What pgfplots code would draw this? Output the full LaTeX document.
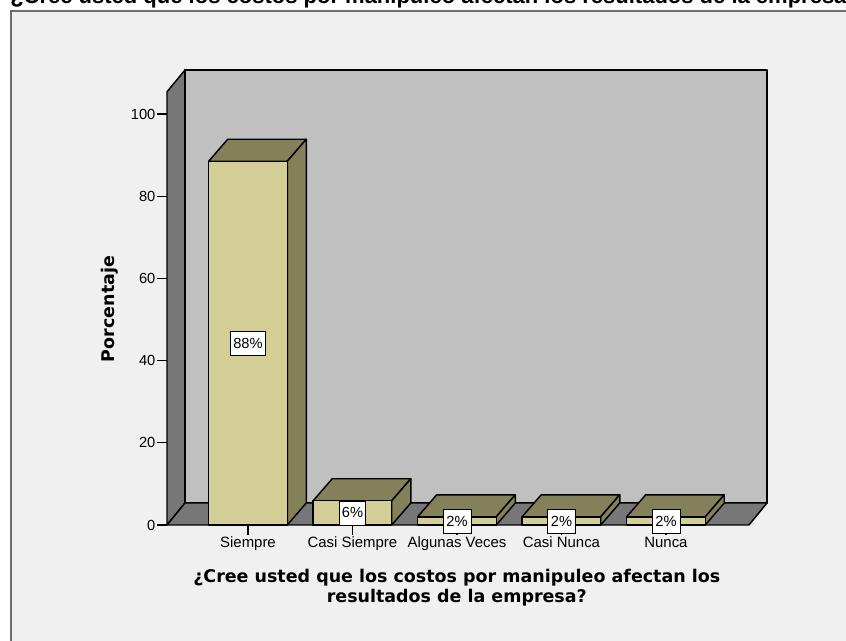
\documentclass[border=0pt]{standalone}
\usepackage{fontspec}
\setmainfont{Liberation Sans}
\newfontfamily\axisbold[BoldFont={DejaVu Sans Bold}]{DejaVu Sans}
\usepackage{pgfplots}
\pgfplotsset{compat=1.18}
\definecolor{panel}{HTML}{F0F0F0}
\definecolor{framegray}{HTML}{6E6E6E}
\definecolor{backwall}{HTML}{C0C0C0}
\definecolor{sidewall}{HTML}{777777}
\definecolor{barfront}{HTML}{D3CE96}
\definecolor{bardark}{HTML}{84805A}
\begin{document}
\begin{tikzpicture}[x=0.75pt,y=0.75pt]
\path[use as bounding box] (0,0) rectangle (846,641);
% panel runs off the right and bottom edge of the screenshot
\begin{scope}
\clip (0,0) rectangle (846,641);
\fill[white] (0,0) rectangle (846,641);
\fill[panel,draw=framegray,line width=1.1pt] (11,-20) rectangle (880,630);
\node[anchor=base west,inner sep=0pt,font=\bfseries\fontsize{16.5}{18}\selectfont] at (10,637)
  {¿Cree usted que los costos por manipuleo afectan los resultados de la empresa?};
\end{scope}
\begin{axis}[
  name=main,
  at={(125.25pt,87pt)},
  anchor=south west,
  scale only axis,
  width=450pt,
  height=341.25pt,
  xmin=-0.775, xmax=4.967,
  ymin=0, ymax=110.7,
  clip=false,
  axis line style={draw=none},
  tick align=outside,
  ytick pos=left,
  xtick pos=bottom,
  tick style={black,line width=1pt},
  major tick length=7.5pt,
  ytick={0,20,40,60,80,100},
  xtick={0,1,2,3,4},
  xticklabels={Siempre,Casi Siempre,Algunas Veces,Casi Nunca,Nunca},
  yticklabel style={inner sep=1pt,font=\fontsize{11}{13}\selectfont},
  xticklabel style={inner sep=1.5pt,font=\fontsize{11.2}{13}\selectfont,text height=8pt,text depth=2.5pt},
  /pgf/number format/assume math mode=true,
  every axis y label/.style={at={(axis description cs:-0.095,0.4747)},anchor=center,rotate=90},
  every axis x label/.style={at={(axis description cs:0.483,-0.1385)},anchor=center,align=center},
  ylabel={\axisbold\fontsize{13.1}{15}\selectfont\bfseries Porcentaje},
  xlabel={\axisbold\fontsize{13.1}{15}\selectfont\bfseries ¿Cree usted que los costos por manipuleo afectan los\\[1.5pt]\axisbold\fontsize{13.1}{15}\selectfont\bfseries resultados de la empresa?},
  every axis plot/.append style={line join=round,line width=1.1pt},
]
% walls and floor
\addplot[fill=backwall,draw=black] coordinates {(-0.603,5.35) (4.967,5.35) (4.967,110.7) (-0.603,110.7) (-0.603,5.35)};
\addplot[fill=sidewall,draw=black] coordinates {(-0.775,0) (-0.775,105.4) (-0.603,110.7) (-0.603,5.35) (-0.775,0)};
\addplot[fill=sidewall,draw=black] coordinates {(-0.775,0) (4.794,0) (4.967,5.35) (-0.603,5.35) (-0.775,0)};
% bar tops and sides
\addplot[fill=bardark,draw=black] coordinates {(-0.376,88.5) (0.376,88.5) (0.558,93.85) (-0.194,93.85) (-0.376,88.5)};
\addplot[fill=bardark,draw=black] coordinates {(0.376,0) (0.558,5.35) (0.558,93.85) (0.376,88.5) (0.376,0)};
\addplot[fill=bardark,draw=black] coordinates {(0.624,5.9) (1.376,5.9) (1.558,11.25) (0.806,11.25) (0.624,5.9)};
\addplot[fill=bardark,draw=black] coordinates {(1.376,0) (1.558,5.35) (1.558,11.25) (1.376,5.9) (1.376,0)};
\addplot[fill=bardark,draw=black] coordinates {(1.624,2) (2.376,2) (2.558,7.35) (1.806,7.35) (1.624,2)};
\addplot[fill=bardark,draw=black] coordinates {(2.376,0) (2.558,5.35) (2.558,7.35) (2.376,2) (2.376,0)};
\addplot[fill=bardark,draw=black] coordinates {(2.624,2) (3.376,2) (3.558,7.35) (2.806,7.35) (2.624,2)};
\addplot[fill=bardark,draw=black] coordinates {(3.376,0) (3.558,5.35) (3.558,7.35) (3.376,2) (3.376,0)};
\addplot[fill=bardark,draw=black] coordinates {(3.624,2) (4.376,2) (4.558,7.35) (3.806,7.35) (3.624,2)};
\addplot[fill=bardark,draw=black] coordinates {(4.376,0) (4.558,5.35) (4.558,7.35) (4.376,2) (4.376,0)};
% bar fronts
\addplot[ybar,bar width=0.752,fill=barfront,draw=black] coordinates {(0,88.5) (1,5.9) (2,2) (3,2) (4,2)};
% value labels
\foreach \xx/\yy/\lab/\wd in {0/44.25/88/26pt,1/2.95/6/20pt,2/0.9/2/21pt,3/0.9/2/21pt,4/0.9/2/21pt}{
  \edef\temp{\noexpand\node[fill=white,draw=black,line width=0.5pt,inner sep=0pt,minimum width=\wd,minimum height=18pt,font=\noexpand\fontsize{11}{13}\noexpand\selectfont] at (axis cs:\xx,\yy) {\lab\noexpand\%};}
  \temp
}
\end{axis}
\end{tikzpicture}
\end{document}
